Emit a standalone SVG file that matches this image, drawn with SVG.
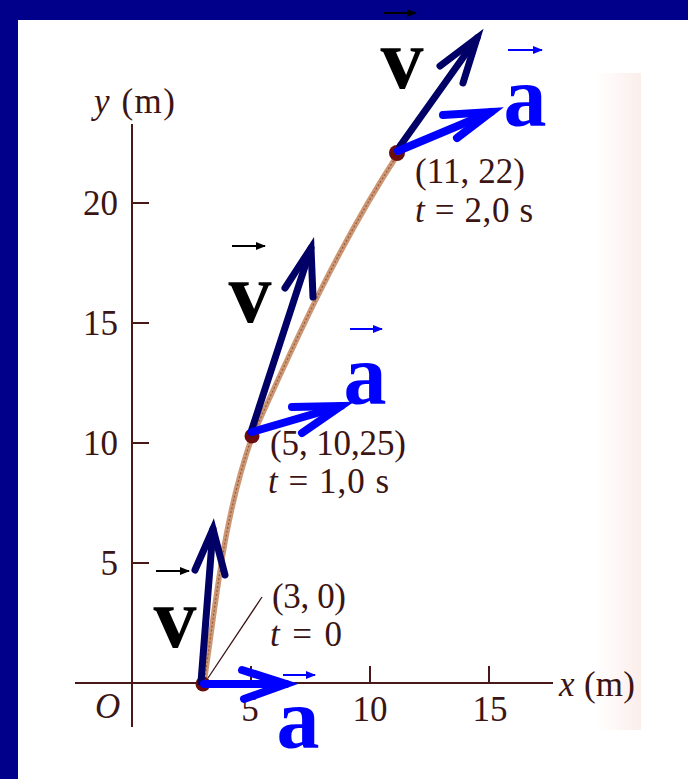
<svg xmlns="http://www.w3.org/2000/svg" width="688" height="779" viewBox="0 0 688 779">
  <defs>
    <linearGradient id="pinkEdge" x1="0" y1="0" x2="1" y2="0">
      <stop offset="0" stop-color="#ffffff"/>
      <stop offset="0.6" stop-color="#fdf5f3"/>
      <stop offset="1" stop-color="#fbeeeb"/>
    </linearGradient>
    <marker id="headK" viewBox="0 0 10 10" refX="9" refY="5" markerWidth="10" markerHeight="10" markerUnits="userSpaceOnUse" orient="auto">
      <path d="M0,1 L10,5 L0,9 Z" fill="#000000"/>
    </marker>
    <marker id="headB" viewBox="0 0 10 10" refX="9" refY="5" markerWidth="10" markerHeight="10" markerUnits="userSpaceOnUse" orient="auto">
      <path d="M0,1 L10,5 L0,9 Z" fill="#0000ff"/>
    </marker>
  </defs>
  <style>
    .scan { font-family: "Liberation Serif", "Times New Roman", serif; font-size: 35px; fill: #3b1414; }
    .it { font-style: italic; }
    .big { font-family: "Liberation Serif", "Times New Roman", serif; font-size: 86px; font-weight: bold; text-anchor: middle; }
    .vlab { fill: #000000; }
    .alab { fill: #0000ff; }
    .axis { stroke: #4a1818; stroke-width: 2; fill: none; }
    .vvec { stroke: #000066; stroke-width: 7; fill: none; stroke-linecap: round; stroke-linejoin: miter; }
    .avec { stroke: #0000ff; stroke-width: 8; fill: none; stroke-linecap: round; stroke-linejoin: miter; }
    .ovK { stroke: #000000; stroke-width: 2; fill: none; marker-end: url(#headK); }
    .ovB { stroke: #0000ff; stroke-width: 2; fill: none; marker-end: url(#headB); }
    .dot { fill: #6b0d0d; }
  </style>

  <!-- background -->
  <rect x="0" y="0" width="688" height="779" fill="#00008b"/>
  <rect x="18" y="20" width="670" height="759" fill="#ffffff"/>
  <rect x="595" y="73" width="46" height="657" fill="url(#pinkEdge)"/>

  <!-- axes -->
  <g id="axes">
    <line class="axis" x1="132" y1="124" x2="132" y2="727"/>
    <line class="axis" x1="75" y1="683" x2="553" y2="683"/>
    <line class="axis" x1="132" y1="203" x2="149" y2="203"/>
    <line class="axis" x1="132" y1="323" x2="149" y2="323"/>
    <line class="axis" x1="132" y1="443" x2="149" y2="443"/>
    <line class="axis" x1="132" y1="563" x2="149" y2="563"/>
    <line class="axis" x1="251" y1="666" x2="251" y2="683"/>
    <line class="axis" x1="370" y1="666" x2="370" y2="683"/>
    <line class="axis" x1="489" y1="666" x2="489" y2="683"/>
    <text class="scan" x="94" y="113" textLength="81" lengthAdjust="spacing"><tspan class="it">y</tspan> (m)</text>
    <text class="scan" x="118" y="215" text-anchor="end">20</text>
    <text class="scan" x="118" y="335" text-anchor="end">15</text>
    <text class="scan" x="118" y="455" text-anchor="end">10</text>
    <text class="scan" x="118" y="575" text-anchor="end">5</text>
    <text class="scan it" x="95" y="718">O</text>
    <text class="scan" x="250" y="721" text-anchor="middle">5</text>
    <text class="scan" x="370" y="721" text-anchor="middle">10</text>
    <text class="scan" x="490" y="721" text-anchor="middle">15</text>
    <text class="scan" x="559" y="696" textLength="76" lengthAdjust="spacing"><tspan class="it">x</tspan> (m)</text>
  </g>

  <!-- trajectory -->
  <g id="trajectory">
    <path d="M204,683 C216.3,601 223.3,519 252,437 C294.3,343 336.9,248 398,154" fill="none" stroke="#cc9775" stroke-width="5.5"/>
    <path d="M204,683 C216.3,601 223.3,519 252,437 C294.3,343 336.9,248 398,154" fill="none" stroke="#9a5a3a" stroke-width="1.2" stroke-dasharray="2 2"/>
    <line x1="208" y1="678" x2="262" y2="597" stroke="#3b1414" stroke-width="1.3"/>
  </g>

  <!-- points -->
  <g id="p0">
    <circle class="dot" cx="203" cy="684" r="7.5"/>
    <text class="scan" x="272" y="608" textLength="74" lengthAdjust="spacing">(3, 0)</text>
    <text class="scan" x="270" y="646" textLength="72" lengthAdjust="spacing"><tspan class="it">t</tspan> = 0</text>
  </g>
  <g id="p1">
    <circle class="dot" cx="252" cy="436" r="7.5"/>
    <text class="scan" x="270" y="455" textLength="136" lengthAdjust="spacing">(5, 10,25)</text>
    <text class="scan" x="268" y="493" textLength="121" lengthAdjust="spacing"><tspan class="it">t</tspan> = 1,0 s</text>
  </g>
  <g id="p2">
    <circle class="dot" cx="397" cy="153" r="8"/>
    <text class="scan" x="415" y="183" textLength="110" lengthAdjust="spacing">(11, 22)</text>
    <text class="scan" x="415" y="222" textLength="118" lengthAdjust="spacing"><tspan class="it">t</tspan> = 2,0 s</text>
  </g>

  <!-- vectors -->
  <g id="vectors">
    <!-- bottom (t=0) -->
    <path class="vvec" d="M201,682 L213,529"/>
    <path class="vvec" d="M195,570 L213,529 L225,575"/>
    <path class="avec" d="M204,684 L286,684"/>
    <path class="avec" d="M242,670 L286,684 L244,699"/>
    <!-- middle (t=1) -->
    <path class="vvec" d="M251,432 L311,248"/>
    <path class="vvec" d="M285,288 L311,248 L313,297"/>
    <path class="avec" d="M252,432 L341,406"/>
    <path class="avec" d="M292,407 L341,406 L302,433"/>
    <!-- top (t=2) -->
    <path class="vvec" d="M400,146 L477,38"/>
    <path class="vvec" d="M440,66 L477,38 L463,83"/>
    <path class="avec" d="M398,151 L491,112"/>
    <path class="avec" d="M443,115 L491,112 L457,138"/>
  </g>

  <!-- vector labels -->
  <g id="labels">
    <text class="big vlab" x="402" y="88">v</text>
    <line class="ovK" x1="384" y1="13" x2="416" y2="13"/>
    <text class="big alab" x="525" y="126">a</text>
    <line class="ovB" x1="508" y1="50" x2="542" y2="50"/>

    <text class="big vlab" x="250" y="322">v</text>
    <line class="ovK" x1="232" y1="246" x2="265" y2="246"/>
    <text class="big alab" x="365" y="404">a</text>
    <line class="ovB" x1="350" y1="329" x2="382" y2="329"/>

    <text class="big vlab" x="175" y="647">v</text>
    <line class="ovK" x1="156" y1="571" x2="189" y2="571"/>
    <text class="big alab" x="298" y="748">a</text>
    <line class="ovB" x1="283" y1="675" x2="315" y2="675"/>
  </g>
</svg>
